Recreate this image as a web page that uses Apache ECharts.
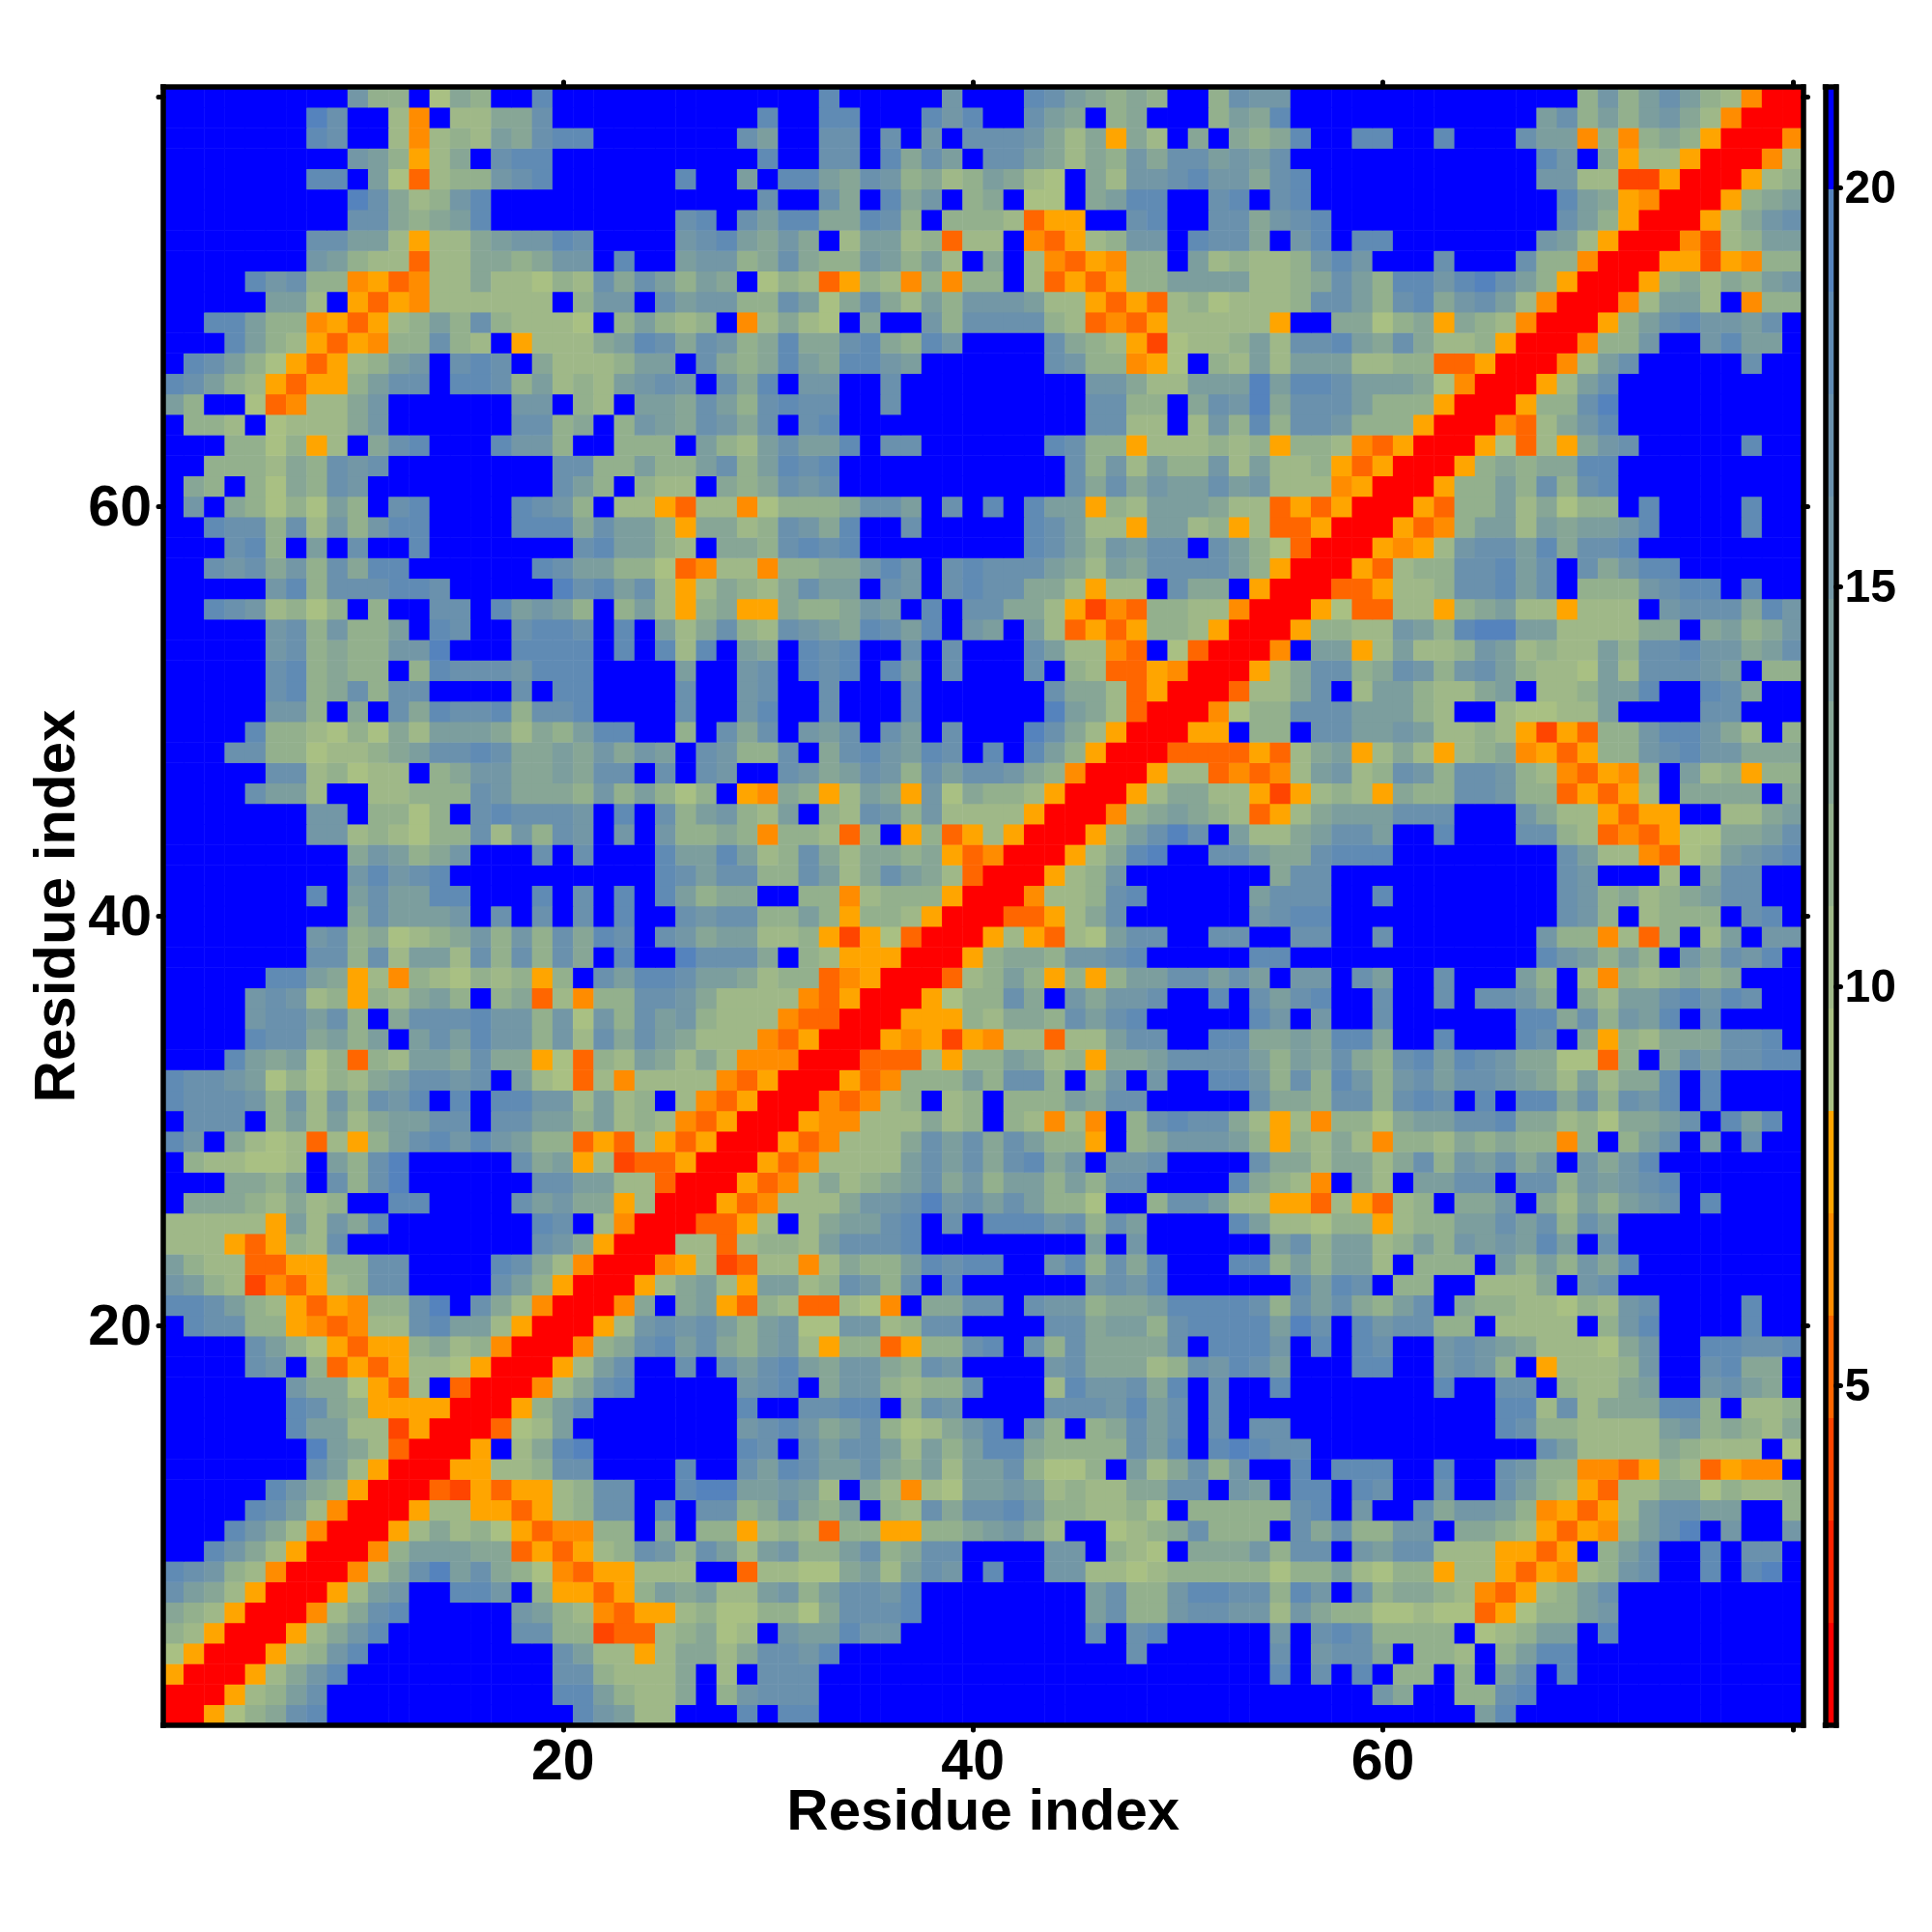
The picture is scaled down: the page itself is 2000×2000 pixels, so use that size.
<!DOCTYPE html>
<html>
<head>
<meta charset="utf-8">
<style>html,body{margin:0;padding:0;background:#fff}#c{width:2000px;height:2000px}</style>
<script src="https://cdn.jsdelivr.net/npm/echarts@6/dist/echarts.min.js"></script>
</head>
<body>
<div id="c"></div>
<script>
// Contact map, upper triangle (x >= y), one hex digit per residue = colour level 0..15.
// Row n lists residue x = 1..80 for y = n; the map is symmetric about the diagonal.
const levelRows = [
"005689cdff ffffffffff dba77fffdf ddffffffff ffffffffff ffffffffff ffffadffff ffffffffff",
".00578acff fffffffffd da8779f8bc ccffffffff ffffffffff fffffffffb 9ff88cdfff ffffffffff",
"..00579bdf fffffffffc c87779f7fc ccffffffff ffffffffff ffffdfcfdf 88f8facfdf ffffffffff",
"...00578bd fffffffffc a77579979c cbdfffffff fffffffcff ffffcfbcc9 f887f8addf ffffffffff",
"....00579b dffffffcc8 823378967f baadbbffff fffffcfcdf ffffbfcdc8 888f678aaf dfffffffff",
".....00479 cdfffffba8 7435578668 869cccdfff fffffac88b ccbb7b9886 676635688a bfffffffff",
"......0057 abffddbf85 5358a9a77a b8accbdfff fffffac88b ddcc8dbfc8 998743578a cfffffffff",
".......004 79ceac9864 355777ff37 7669a7acbf dffbb77678 8888688a76 8857753547 8bcffdfdef",
"........00 48aaa99353 578cb8ca7a b88ac89ccf fffbbf876f 999b8ccfba cc7775535f 8acffdfccf",
".........0 0579786534 488f9f8857 8738855889 ab97ff6789 c888fc9c88 bbf9987535 48acefbffb",
"0057755357 8ccfdfcc89 c98af87c9c cdb887786f 88888cdfbf fc9bba8453 57accaaff8",
".003253557 8ccffdeeaa ba7f97476a aba787799c cfbafddfdc ffcffca875 3779968778",
"..0055778c cffffdffca dcaac98a7a ac8668fa79 c8bffdfddd ffdffcb884 435873544f",
"...005f79d efffffffdc fcacca7a8a dd98888cad fdedccffff fffffffca7 77798777f6",
"....00367a ffffffffbc db9ac8679b dfb8f89cac fcfccfffff fffffdc887 777ab89879",
".....0058a cfffffffdf fccddf8cbf fffcccbdac fcffffffff fffffdd7c7 999dd8f778",
"......0047 9cdfffffbc df9bb8788c fff7dbbc9d fcffdfffff ffdffccf87 79affbca9f",
".......005 7acffcfcac da9bb98cbf fffbc99978 cbdcafffdd ffbcb8f577 78bffcd99f",
"........00 489cdac98a b75883588c dfc8c9999c fdddbfdfdc ffbcba9777 69bffddccd",
".........0 057bcbca8a b66bb78ccf fffcc9aa8c ddddaecfdb cc88f7777f 8bdffffdff",
"0049f9a538 733764f99c cfcbb899ad dddc8cac98 acf9887768 7bcffffdff",
".00579a75a a78cb8cfdf fffffbcbdf fffffdadcf 88ff7779fb cfffffffff",
"..00457237 747988adcd dffbd8c9df ffdd8a8aa7 f888fa8a8b 9dffffffff",
"...0077378 87acccdfff fffffafbff ffffac8aa7 8a8babadaf cfffffffff",
"....003357 f79aacdfcf dddbc8caff ffda776885 788aacac8c afffffffff",
".....00534 7779bbcebc aca886ff8c ca77553753 78f99bf97a 8abcfdffff",
"......0053 479789ac9b 8aa8a8ccff ffd9874f97 faaccfcc8b abcdffffff",
".......005 347777acac 9cd9bfbbcf fffc997997 9c8bac9bfb 9bdfffffff",
"........00 5347779cac 9ca885f89b bba8587974 8879898848 f8acfafcff",
".........0 0544777978 f87474f8cd cc97574886 9aaccd9978 699acfdadf",
"0043478f78 f888a9ccff fffc998cc8 cdcfdfdd9c 8cbdfdffff",
".00534888a 8cc8f8bfbf fddb8c8db8 bcaccba97a 799dfdffff",
"..00333758 8a978599ac ccca8a9c98 cdadcb9966 38f9caccdd",
"...0054525 477377accf fdd99a9dd9 ffdfffdcf9 587999ccdf",
"....005558 7998cacdff fffdbfbffc ffffffdd9c 8badfcffff",
".....00568 8c9fb9bbcf fdfcacdffc ffcfccb9f9 7aacdbdcff",
"......0037 8a85858aac cacafbbfca ffcfffa8f7 4878989fff",
".......005 8998bbcdff fffddfffff fffffffdba 8a8fb9cbdf",
"........00 575376accf fccffccffc fffffffb88 4738f7afbb",
".........0 033579cfff fffbcddfff ffffffffcb 8f7888fcdf",
"004778cdff fffacccffd ffffffffcb 89789accff",
".00578bfff ffff9ccfff ffffffffcb fff7f9ccff",
"..00579def fcca99cddd ffffffffca 774367abcd",
"...0058ace cfa779acca ffdfffcc87 34356699ac",
"....00489a 9873579aaa cccfffb977 5355ff779a",
".....00579 9775257875 988ccb8835 357f9999f9",
"......0057 734347ab78 cb8ccb8743 548fa78588",
".......003 3335379a57 9757894535 88bcdbb999",
"........00 55f88fccaa ba77875253 88bddb97f8",
".........0 04688cccaa a87ff76677 affffccfff",
"003779cf7a a8779af778 aadffdc9ff",
".00579cc89 cb8bca8776 a7cccbaf88",
"..004faa57 a778ba7877 a8ccdbb9ac",
"...0058877 ba8deeaa77 7799f9a89b",
"....005633 77589a7757 77fbccc9db",
".....00335 778ccdacf8 88bcddfdff",
"......0053 788ccdacfc 9bddffffff",
".......005 457bccad9c cdffffffff",
"........00 5348aa7a9a abdffffdff",
".........0 05388a7968 8fdffffdff",
"00588a8c8c dfffffffff",
".00589899d dfffffffff",
"..00563759 bcfffffdff",
"...004379b dfffffffff",
"....00588c efffffffff",
".....0057a cfffffffff",
"......0047 acfffffcff",
".......004 88bffbdaaf",
"........00 58acdbbacf",
".........0 047aa7f488",
"00589798ab",
".005525488",
"..004278aa",
"...00579bc",
"....00589a",
".....00578",
"......0047",
".......004",
"........00",
".........0"
];
const levelColors = ["#ff0000","#ff2200","#ff4500","#ff6600","#ff8c00","#ffa500",
  "#a9c083","#9fb888","#93b08d","#87a696","#7c9e9e","#7397a6","#6a91ad","#608bb4","#5583bd","#0000ff"];
const scaleMin = 0.75, scaleMax = 21.26;
const tickResidues = [20, 40, 60, 80];
const labelResidues = [20, 40, 60];
const barTicks = [5, 10, 15, 20];
const axisTitle = "Residue index";
const FONT = '"Liberation Sans", Arial, sans-serif';

const step = (scaleMax - scaleMin) / levelColors.length;
const rows = levelRows.map((r, i) => {
  const s = r.replace(/ /g, "").padStart(80, ".");
  if (s.length !== 80 || s.indexOf("0") !== i) throw new Error("bad row " + (i + 1) + " len " + s.length + " first0 " + s.indexOf("0"));
  return s;
});
const residues = Array.from({length: 80}, (_, i) => String(i + 1));
const cells = [];
for (let y = 0; y < 80; y++) for (let x = 0; x < 80; x++) {
  const k = parseInt(rows[Math.min(x, y)][Math.max(x, y)], 16);
  cells.push([x, y, scaleMin + (k + 0.5) * step]);
}
const barData = levelColors.map((c, k) => [scaleMin + k * step, scaleMin + (k + 1) * step, k]);

const tickFn = (i) => tickResidues.includes(i + 1);
const labelFn = (i) => labelResidues.includes(i + 1);
const line = {show: true, onZero: false, lineStyle: {color: "#000", width: 5.5, cap: "square"}};
const tick = {show: true, interval: tickFn, alignWithLabel: true, length: 5, inside: false,
  lineStyle: {color: "#000", width: 5, cap: "round"}};
const richText = (size, pad) => ({a: {color: "#000", fontFamily: FONT, fontWeight: "bold", fontSize: size, padding: [pad, 0, 0, 0]}});
const xLabel = {show: true, interval: labelFn, color: "#000", fontFamily: FONT, fontWeight: "bold", fontSize: 59, margin: 10};
const yLabel = {show: true, interval: labelFn, color: "#000", fontFamily: FONT, fontWeight: "bold", fontSize: 59, margin: 12,
  formatter: "{a|{value}}", rich: richText(59, 6)};
const nameStyle = {color: "#000", fontFamily: FONT, fontWeight: "bold", fontSize: 60};

const mainGrid = {left: 169, right: 133.5, top: 90, bottom: 214, outerBoundsMode: "none"};
const barGrid = {left: 1889.5, right: 99.5, top: 90, bottom: 214, outerBoundsMode: "none"};

const option = {
  animation: false,
  backgroundColor: "#fff",
  grid: [mainGrid, barGrid],
  visualMap: {
    show: false, type: "piecewise", seriesIndex: 0, dimension: 2,
    pieces: levelColors.map((c, k) => ({min: scaleMin + k * step, max: scaleMin + (k + 1) * step, color: c}))
  },
  xAxis: [
    {type: "category", gridIndex: 0, data: residues, position: "bottom", z: 10, axisLine: line, axisTick: tick, axisLabel: xLabel, splitLine: {show: false},
     name: axisTitle, nameLocation: "middle", nameGap: 61, nameMoveOverlap: false, nameTextStyle: nameStyle},
    {type: "category", gridIndex: 0, data: residues, position: "top", z: 10, axisLine: line, axisTick: tick, axisLabel: {show: false}, splitLine: {show: false}},
    {type: "value", gridIndex: 1, min: 0, max: 1, position: "bottom", z: 10, axisLine: line, axisTick: {show: false}, axisLabel: {show: false}, splitLine: {show: false}},
    {type: "value", gridIndex: 1, min: 0, max: 1, position: "top", z: 10, axisLine: line, axisTick: {show: false}, axisLabel: {show: false}, splitLine: {show: false}}
  ],
  yAxis: [
    {type: "category", gridIndex: 0, data: residues, position: "left", z: 10, axisLine: line, axisTick: tick, axisLabel: yLabel, splitLine: {show: false},
     name: axisTitle, nameLocation: "middle", nameGap: 79, nameRotate: 90, nameMoveOverlap: false, nameTextStyle: nameStyle},
    {type: "category", gridIndex: 0, data: residues, position: "right", z: 10, axisLine: line, axisTick: tick, axisLabel: {show: false}, splitLine: {show: false}},
    {type: "value", gridIndex: 1, min: scaleMin, max: scaleMax, position: "right", z: 10, axisLine: line,
     axisTick: {show: true, customValues: barTicks, length: 5, lineStyle: {color: "#000", width: 5, cap: "round"}},
     axisLabel: {show: true, customValues: barTicks, color: "#000", fontFamily: FONT, fontWeight: "bold", fontSize: 48, margin: 9,
       formatter: "{a|{value}}", rich: richText(48, 5)},
     splitLine: {show: false}},
    {type: "value", gridIndex: 1, min: scaleMin, max: scaleMax, position: "left", z: 10, axisLine: line, axisTick: {show: false}, axisLabel: {show: false}, splitLine: {show: false}}
  ],
  series: [
    {type: "heatmap", xAxisIndex: 0, yAxisIndex: 0, data: cells, progressive: 0, itemStyle: {borderWidth: 0}, emphasis: {disabled: true}},
    {type: "custom", xAxisIndex: 2, yAxisIndex: 2, data: barData, clip: false,
     renderItem: (params, api) => {
       const a = api.coord([0, api.value(0)]);
       const b = api.coord([1, api.value(1)]);
       return {type: "rect", shape: {x: a[0], y: b[1], width: b[0] - a[0], height: a[1] - b[1]},
         style: {fill: levelColors[api.value(2)]}};
     }}
  ]
};
const chart = echarts.init(document.getElementById("c"), null, {renderer: "canvas", width: 2000, height: 2000});
chart.setOption(option);
</script>
</body>
</html>
